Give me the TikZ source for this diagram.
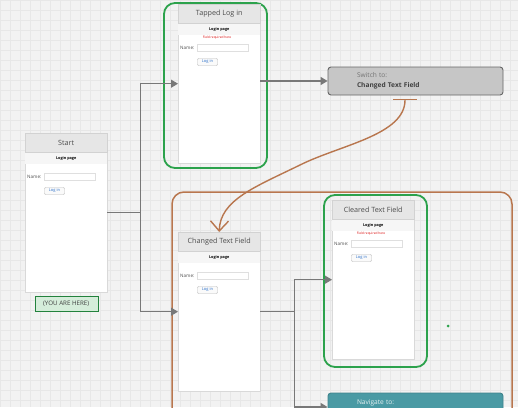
\documentclass[tikz,border=0pt]{standalone}
\usepackage{fontspec}
\setmainfont{Open Sans}
\usepackage{xcolor}
\usepackage{tikz}
\usetikzlibrary{positioning, arrows.meta, shadows}

\definecolor{gridbg}{HTML}{F2F2F2}
\definecolor{gridline}{HTML}{E7E7E7}
\definecolor{flowgray}{HTML}{787878}
\definecolor{framegreen}{HTML}{2CA24C}
\definecolor{framebrown}{HTML}{B8764E}
\definecolor{titlegray}{HTML}{E6E6E6}
\definecolor{switchgray}{HTML}{C6C6C6}
\definecolor{navteal}{HTML}{4A9AA4}
\definecolor{herefill}{HTML}{D5EDDA}
\definecolor{linkblue}{HTML}{2A6FC9}

\tikzset{
    x = 1pt, y = -1pt,                          % Work in screen pixels, y pointing down
    winbody/.style={draw=gray!30, fill=white, minimum width=82pt, minimum height=159pt, inner sep=0pt,
        drop shadow={opacity=0.12, shadow xshift=0.7pt, shadow yshift=-0.7pt}},
    wintitle/.style={draw=gray!35, fill=titlegray, minimum width=82pt, minimum height=19pt, inner sep=0pt,
        text=black!70, font=\fontsize{7.2}{8}\selectfont},
    pagebar/.style={fill=gray!7, minimum width=82pt, minimum height=11pt, inner sep=0pt,
        font=\fontsize{3.8}{4}\selectfont\bfseries},
    errtext/.style={text=red!85!black, inner sep=0pt, font=\fontsize{3.2}{3.6}\selectfont},
    namelabel/.style={text=black!70, inner sep=0pt, anchor=west, font=\fontsize{4.6}{5}\selectfont},
    fieldbox/.style={draw=gray!25, fill=white, minimum width=51pt, minimum height=7pt, inner sep=0pt},
    loginbtn/.style={draw=gray!55, fill=gray!4, rounded corners=1pt, minimum width=20pt, minimum height=7pt,
        inner sep=0pt, text=linkblue, font=\fontsize{4}{4.5}\selectfont},
    actionbox/.style={rounded corners=3pt, line width=0.9pt, minimum width=175pt, minimum height=28pt,
        text width=117pt, inner xsep=29pt, inner ysep=0pt, align=left, font=\fontsize{6.6}{10}\selectfont},
    switchbox/.style={actionbox, draw=black!60, fill=switchgray},
    navbox/.style={actionbox, draw=navteal!85!black, fill=navteal, text=white!85!navteal},
    herebox/.style={draw=framegreen!80!black, fill=herefill, minimum width=63pt, minimum height=15pt,
        inner sep=0pt, text=black!75, font=\fontsize{6.2}{7}\selectfont},
    greenframe/.style={draw=framegreen, line width=1.8pt, rounded corners=11pt},
    brownframe/.style={draw=framebrown, line width=1.5pt, rounded corners=12pt},
    flow/.style={draw=flowgray, line width=1.3pt, -{Triangle[length=7pt, width=8pt]}},
    backlink/.style={draw=framebrown, line width=1.4pt, {Bar[width=24pt]}-{Straight Barb[length=10pt, width=18pt]}}
}

% One screen of the app: name, top left corner, title, error text
\newcommand{\loginwin}[4]{%
    \node [winbody, anchor=north west] (#1) at (#2) {};
    \node [wintitle, below=0pt of #1.north] (#1-title) {#3};
    \node [pagebar, below=0pt of #1-title] (#1-page) {Login page};
    \node [namelabel] (#1-name) at ([shift={(2,44)}]#1.north west) {Name:};
    \node [fieldbox] (#1-field) at ([shift={(44.5,44)}]#1.north west) {};
    \node [loginbtn] (#1-btn) at ([shift={(29.5,58)}]#1.north west) {Log in};
    \if\relax\detokenize{#4}\relax\else
        \node [errtext] (#1-err) at ([shift={(39,33.5)}]#1.north west) {#4};
    \fi
}

\begin{document}
\begin{tikzpicture}
            \useasboundingbox (0,0) rectangle (518,407);
            \clip (0,0) rectangle (518,407);

            % Background grid
            \fill [gridbg] (0,0) rectangle (518,407);
            \draw [gridline, step=10pt, line width=0.3pt] (0,407) grid (518,0);

            % Frames
            \draw [brownframe] (172,192) rectangle (512,440);
            \draw [greenframe] (164,3) rectangle (267,168);
            \draw [greenframe] (324,195) rectangle (427,367);

            % Define screens
            \loginwin{start}{25,133}{Start}{}
            \loginwin{tapped}{178,4}{Tapped Log in}{Field required here}
            \loginwin{changed}{178,232}{Changed Text Field}{}
            \loginwin{cleared}{332,200}{Cleared Text Field}{Field required here}

            \node [switchbox] (switchto) at (415.5,81)
                {\textcolor{black!55}{Switch to:}\\\textbf{\textcolor{black!75}{Changed Text Field}}};
            \node [navbox] (navigate) at (415.5,407) {Navigate to:\\\phantom{X}};
            \node [herebox, below=4pt of start] (here) {(YOU ARE HERE)};
            \node [circle, fill=framegreen, inner sep=0pt, minimum size=3pt] (dot) at (448,326) {};

            % Draw transitions
            \draw [flow] (start.east) -- ++(33,0) coordinate (fork) |- (tapped.west);
            \draw [flow] (fork) |- (changed.west);
            \draw [flow] (tapped.east |- switchto.west) -- (switchto.west);
            \draw [flow] (changed.east) -- ++(34,0) coordinate (fork2) |- (cleared.west);
            \draw [flow] (fork2) |- (navigate.west);

            \coordinate (tee) at (405,99);
            \draw [backlink] (tee) .. controls (405,135) and (340,145) .. (300,165)
                                   .. controls (255,187) and (220,200) .. (changed.north);
        \end{tikzpicture}
\end{document}
